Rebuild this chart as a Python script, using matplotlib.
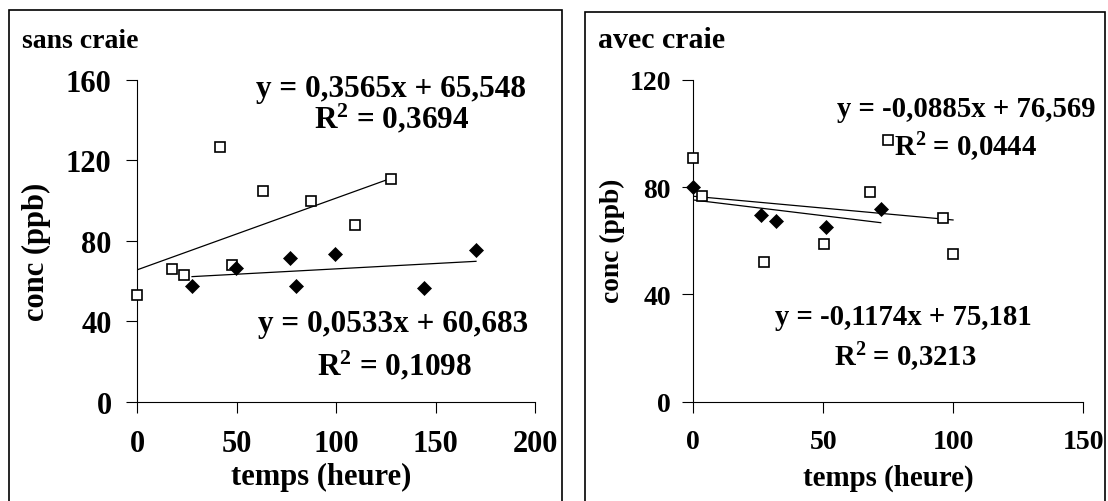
import matplotlib
matplotlib.use("Agg")
import matplotlib.pyplot as plt
from matplotlib.patches import Rectangle

# sans craie
sans_sq_x = [0, 17.6, 23.5, 41.8, 47.8, 63.0, 87.3, 109.2, 127.5]
sans_sq_y = [53.0, 66.1, 63.1, 126.7, 67.9, 104.7, 99.9, 87.8, 110.8]
sans_dm_x = [27.5, 49.6, 76.8, 79.5, 99.5, 144.2, 170.2]
sans_dm_y = [57.5, 66.6, 71.6, 57.5, 73.5, 56.3, 75.4]
sans_fit = [(0.3565, 65.548, 0.3694), (0.0533, 60.683, 0.1098)]

# avec craie
avec_sq_x = [0, 3.5, 27.3, 50.4, 67.9, 74.8, 95.9, 99.9]
avec_sq_y = [90.7, 76.7, 52.1, 58.8, 78.0, 97.4, 68.6, 55.2]
avec_dm_x = [0, 26.1, 31.8, 50.9, 72.1]
avec_dm_y = [79.9, 69.4, 67.3, 65.1, 71.9]
avec_fit = [(-0.0885, 76.569, 0.0444), (-0.1174, 75.181, 0.3213)]

sans_xticks = [0, 50, 100, 150, 200]
sans_yticks = [0, 40, 80, 120, 160]
avec_xticks = [0, 50, 100, 150]
avec_yticks = [0, 40, 80, 120]

plt.rcParams["font.family"] = ["Liberation Serif", "DejaVu Serif"]
plt.rcParams["font.weight"] = "bold"
plt.rcParams["mathtext.fontset"] = "custom"
plt.rcParams["mathtext.rm"] = "Liberation Serif:bold"
plt.rcParams["mathtext.it"] = "Liberation Serif:bold"
plt.rcParams["mathtext.bf"] = "Liberation Serif:bold"

W, H = 1108, 502
fig = plt.figure(figsize=(W / 100, H / 100), dpi=100)


def fmt(v, nd):
    return f"{v:.{nd}f}".replace(".", ",")


def eq_text(slope, icpt):
    return f"y = {fmt(slope, 4)}x + {fmt(icpt, 3)}"


def r2_text(r2):
    return "R$^{2}$ = " + fmt(r2, 4)


def panel(rect, sq_x, sq_y, dm_x, dm_y, fits, xticks, yticks, ypad, text_pos,
          ylab_pos, xlab_pos, tick_fs, eq_fs, xlab_fs, ylab_fs):
    ax = fig.add_axes(rect)
    ax.set_xlim(xticks[0], xticks[-1])
    ax.set_ylim(yticks[0], yticks[-1])
    for s in ["top", "right"]:
        ax.spines[s].set_visible(False)
    for s in ["left", "bottom"]:
        ax.spines[s].set_linewidth(0.8)
    ax.set_xticks(xticks)
    ax.set_yticks(yticks)
    ax.set_xticklabels([str(t) for t in xticks], fontsize=tick_fs, fontweight="bold")
    ax.set_yticklabels([str(t) for t in yticks], fontsize=tick_fs, fontweight="bold")
    ax.tick_params(axis="x", direction="out", length=8, width=0.8, pad=12)
    ax.tick_params(axis="y", direction="out", length=8, width=0.8, pad=ypad)

    # trend lines over each series' x range
    for xs, (a, b, _) in zip([sq_x, dm_x], fits):
        x0, x1 = min(xs), max(xs)
        ax.plot([x0, x1], [a * x0 + b, a * x1 + b], color="black", lw=0.9, zorder=2)

    ax.plot(sq_x, sq_y, ls="none", marker="s", ms=7, mfc="white", mec="black",
            mew=1.2, clip_on=False, zorder=3)
    ax.plot(dm_x, dm_y, ls="none", marker="D", ms=7.6, mfc="black", mec="black",
            mew=0.5, clip_on=False, zorder=3)

    for (a, b, r2), (ex, ey, rx, ry) in zip(fits, text_pos):
        ax.text(ex, ey, eq_text(a, b), fontsize=eq_fs, fontweight="bold",
                ha="center", va="baseline", zorder=4)
        ax.text(rx, ry, r2_text(r2), fontsize=eq_fs, fontweight="bold",
                ha="center", va="baseline", zorder=4)

    ax.text(ylab_pos[0], ylab_pos[1], "conc (ppb)", transform=ax.transAxes, rotation=90,
            ha="center", va="center", fontsize=ylab_fs, fontweight="bold")
    ax.text(xlab_pos[0], xlab_pos[1], "temps (heure)", transform=ax.transAxes,
            ha="center", va="center", fontsize=xlab_fs, fontweight="bold")
    return ax


ax1 = panel([137.3 / W, (H - 402.7) / H, 398 / W, 322 / H],
            sans_sq_x, sans_sq_y, sans_dm_x, sans_dm_y, sans_fit,
            sans_xticks, sans_yticks, 10.5,
            [(127.4, 152.1, 127.7, 136.4), (128.5, 35.3, 129.0, 13.8)],
            (-0.253, 0.469), (0.463, -0.231),
            tick_fs=22, eq_fs=22.5, xlab_fs=22, ylab_fs=22)

ax2 = panel([693.3 / W, (H - 402.7) / H, 390 / W, 322 / H],
            avec_sq_x, avec_sq_y, avec_dm_x, avec_dm_y, avec_fit,
            avec_xticks, avec_yticks, 8,
            [(104.9, 106.6, 104.9, 91.7), (80.7, 29.0, 81.4, 13.4)],
            (-0.207, 0.502), (0.501, -0.234),
            tick_fs=20, eq_fs=20.7, xlab_fs=20.8, ylab_fs=19.8)

# panel frames
fig.add_artist(Rectangle((9 / W, -0.05), (561.7 - 9) / W, 1.05 - 10.7 / H,
                         transform=fig.transFigure, fill=False, lw=1.2, ec="black"))
fig.add_artist(Rectangle((585 / W, -0.05), (1104.5 - 585) / W, 1.05 - 12.7 / H,
                         transform=fig.transFigure, fill=False, lw=1.2, ec="black"))

fig.text(21.7 / W, (H - 47.7) / H, "sans craie", fontsize=20, fontweight="bold",
         ha="left", va="baseline")
fig.text(598 / W, (H - 48.3) / H, "avec craie", fontsize=21.5, fontweight="bold",
         ha="left", va="baseline")

fig.savefig("out.png", dpi=100)
